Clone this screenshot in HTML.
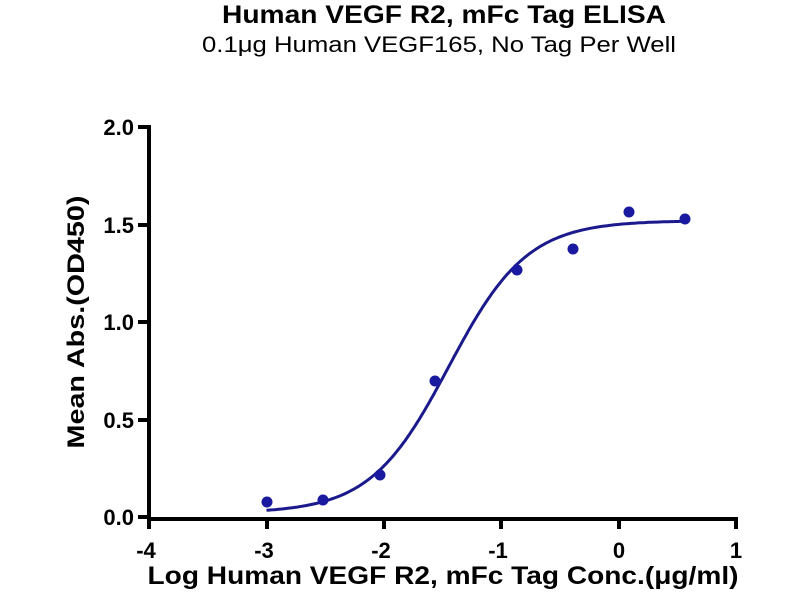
<!DOCTYPE html>
<html><head><meta charset="utf-8"><style>
body{margin:0;background:#fff;}
svg{display:block;font-family:"Liberation Sans",Arial,sans-serif;}
</style></head><body>
<svg id="s" width="800" height="600" xmlns="http://www.w3.org/2000/svg">
<text x="444" y="23" text-anchor="middle" font-size="25" font-weight="bold" textLength="444" lengthAdjust="spacingAndGlyphs">Human VEGF R2, mFc Tag ELISA</text>
<text x="439" y="52" text-anchor="middle" font-size="22" textLength="474" lengthAdjust="spacingAndGlyphs">0.1μg Human VEGF165, No Tag Per Well</text>
<g stroke="#000" stroke-width="4" fill="none">
<line x1="149" y1="125" x2="149" y2="519"/>
<line x1="147" y1="519" x2="738" y2="519"/>
<line x1="138" y1="127" x2="149" y2="127"/>
<line x1="138" y1="225" x2="149" y2="225"/>
<line x1="138" y1="322" x2="149" y2="322"/>
<line x1="138" y1="420" x2="149" y2="420"/>
<line x1="138" y1="517" x2="149" y2="517"/>
<line x1="149" y1="517" x2="149" y2="529"/>
<line x1="267" y1="517" x2="267" y2="529"/>
<line x1="384" y1="517" x2="384" y2="529"/>
<line x1="501" y1="517" x2="501" y2="529"/>
<line x1="619" y1="517" x2="619" y2="529"/>
<line x1="736" y1="517" x2="736" y2="529"/>
</g>
<g font-size="22" font-weight="bold" text-anchor="end">
<text x="134" y="135">2.0</text>
<text x="134" y="233">1.5</text>
<text x="134" y="330">1.0</text>
<text x="134" y="428">0.5</text>
<text x="134" y="525">0.0</text>
</g>
<g font-size="22" font-weight="bold" text-anchor="middle">
<text x="146" y="558">-4</text>
<text x="264" y="558">-3</text>
<text x="381" y="558">-2</text>
<text x="498" y="558">-1</text>
<text x="619" y="558">0</text>
<text x="736" y="558">1</text>
</g>
<text x="443" y="584" text-anchor="middle" font-size="25" font-weight="bold" textLength="591" lengthAdjust="spacingAndGlyphs">Log Human VEGF R2, mFc Tag Conc.(μg/ml)</text>
<text transform="translate(84,322) rotate(-90)" text-anchor="middle" font-size="24" font-weight="bold" textLength="253" lengthAdjust="spacingAndGlyphs">Mean Abs.(OD450)</text>
<polyline id="c" fill="none" stroke="#1a1a8c" stroke-width="3"/>
<g fill="#1a1aa0">
<circle cx="267" cy="502" r="5.5"/>
<circle cx="323" cy="500" r="5.5"/>
<circle cx="380" cy="475" r="5.5"/>
<circle cx="435" cy="381" r="5.5"/>
<circle cx="517" cy="270" r="5.5"/>
<circle cx="573" cy="249" r="5.5"/>
<circle cx="629" cy="212" r="5.5"/>
<circle cx="685" cy="219" r="5.5"/>
</g>
</svg>
<script>
var p=[];for(var x=-3;x<=0.571;x+=0.02){var y=0.02+1.5/(1+Math.pow(10,1.3*(-1.45-x)));p.push((619+x*117.5).toFixed(1)+","+(517-y*195).toFixed(1));}
document.getElementById("c").setAttribute("points",p.join(" "));
</script>
</body></html>
